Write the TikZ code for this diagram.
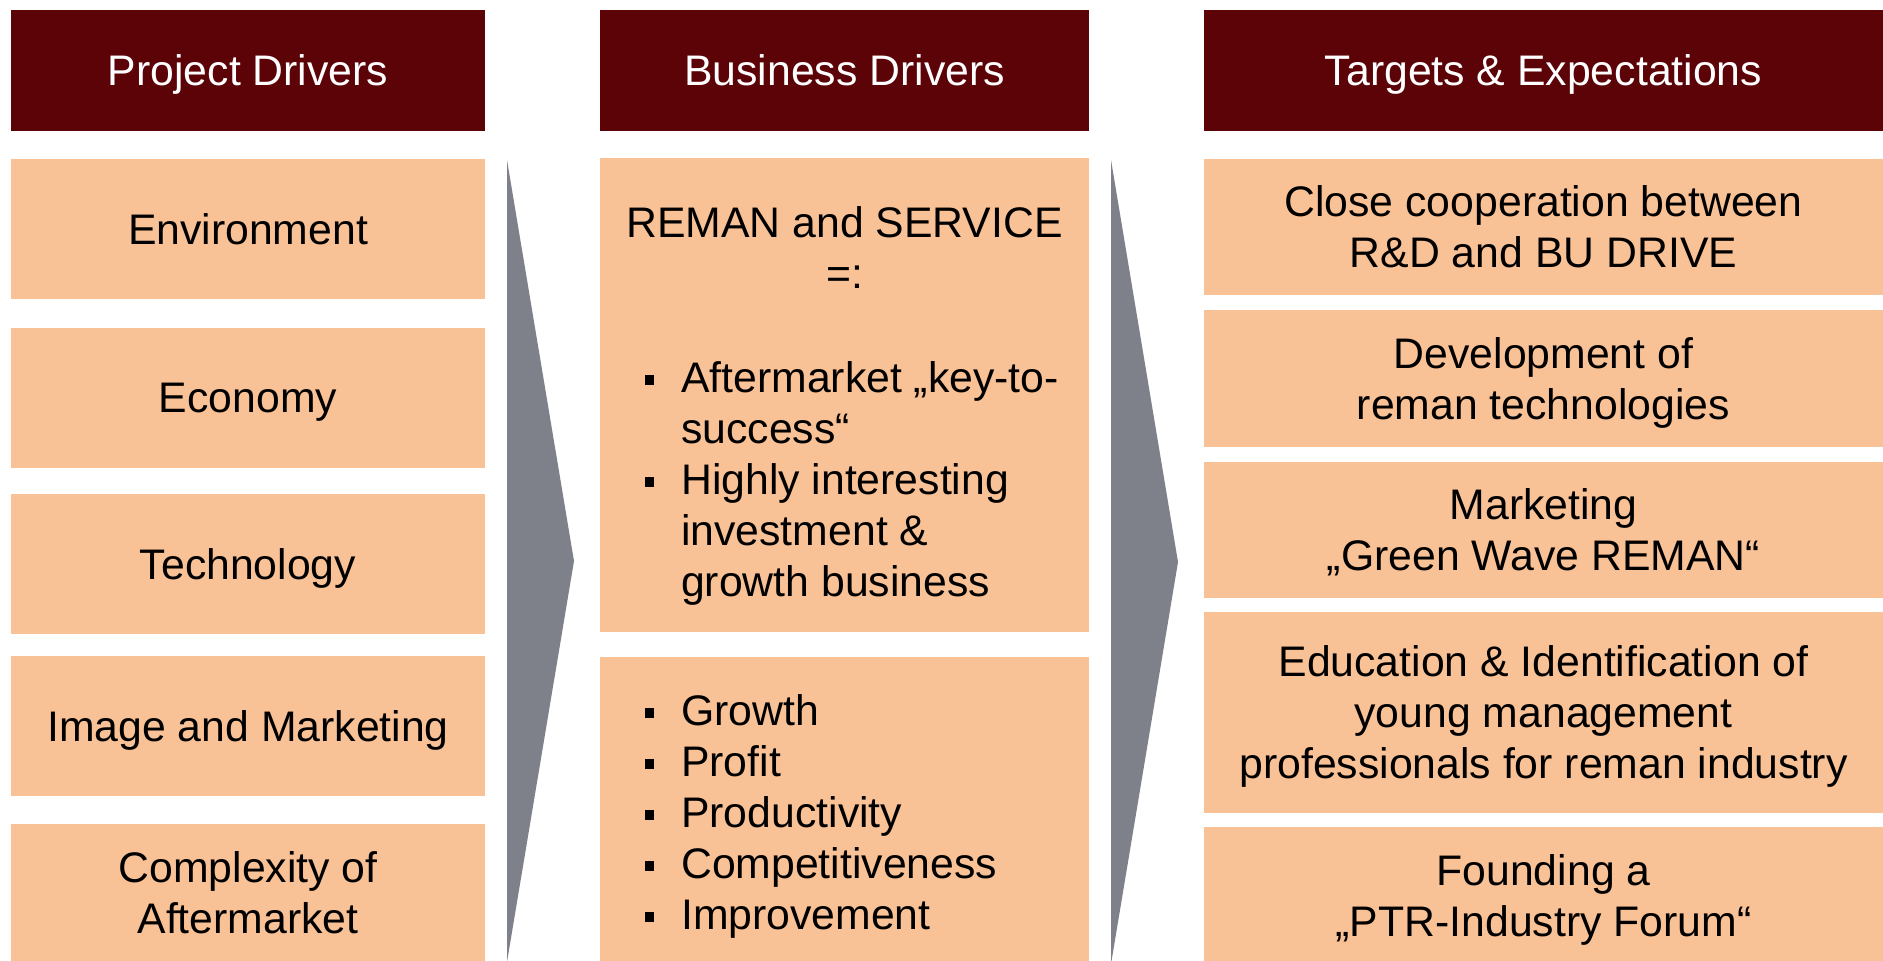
\documentclass[tikz,border=0pt]{standalone}
\usepackage{fontspec}
\setmainfont{Liberation Sans}
\definecolor{hdr}{HTML}{5C0308}
\definecolor{peach}{HTML}{F9C196}
\definecolor{chev}{HTML}{7E8189}
\newcommand{\bulsq}{\rule[7pt]{9pt}{10pt}}
\tikzset{
  txt/.style={font=\fontsize{42.75}{51}\selectfont},
  hbox/.style={txt, fill=hdr, text=white, inner sep=0pt, align=center, text depth=0pt},
  pbox/.style={txt, fill=peach, text=black, inner sep=0pt, align=center, text depth=0pt},
  blist/.style={txt, inner sep=0pt, anchor=base west},
  chevron/.style={fill=chev}
}
\begin{document}
\begin{tikzpicture}[x=1pt,y=-1pt]
\useasboundingbox (0,0) rectangle (1883,961);
% headers
\node[hbox, minimum width=474, minimum height=121] (h1) at (248,70) {Project Drivers};
\node[hbox, minimum width=489, minimum height=121] (h2) at (844.5,70) {Business Drivers};
\node[hbox, minimum width=679, minimum height=121] (h3) at (1543.5,70) {Targets \& Expectations};
% left column
\node[pbox, minimum width=474, minimum height=140.5] (l1) at (248,228.75) {Environment};
\node[pbox, minimum width=474, minimum height=140] (l2) at (248,398) {Economy};
\node[pbox, minimum width=474, minimum height=140] (l3) at (248,564) {Technology};
\node[pbox, minimum width=474, minimum height=140] (l4) at (248,726) {Image and Marketing};
\node[pbox, minimum width=474, minimum height=137] (l5) at (248,892.5) {Complexity of\\Aftermarket};
% chevrons
\fill[chevron] (507,160) -- (574,561) -- (507,962) -- cycle;
\fill[chevron] (1111,160) -- (1178,562) -- (1111,964) -- cycle;
% middle column
\node[pbox, minimum width=489, minimum height=473.5] (m1) at (844.5,395) {};
\node[pbox, minimum width=489, minimum height=304] (m2) at (844.5,809) {};
\node[txt, align=center, inner sep=0pt] (m1t) at (844.5,248) {REMAN and SERVICE\\=:};
\node[blist] (m1l) at (645,392) {\begin{tabular}[t]{@{}l@{\hspace{27pt}}l@{}}
\bulsq & Aftermarket „key-to-\\
 & success“\\
\bulsq & Highly interesting\\
 & investment \&\\
 & growth business
\end{tabular}};
\node[blist] (m2l) at (645,725) {\begin{tabular}[t]{@{}l@{\hspace{27pt}}l@{}}
\bulsq & Growth\\
\bulsq & Profit\\
\bulsq & Productivity\\
\bulsq & Competitiveness\\
\bulsq & Improvement
\end{tabular}};
% right column
\node[pbox, minimum width=679, minimum height=136.5] (r1) at (1543.5,226.75) {Close cooperation between\\R\&D and BU DRIVE};
\node[pbox, minimum width=679, minimum height=137] (r2) at (1543.5,378.5) {Development of\\reman technologies};
\node[pbox, minimum width=679, minimum height=136] (r3) at (1543.5,530) {Marketing\\„Green Wave REMAN“};
\node[pbox, minimum width=679, minimum height=201] (r4) at (1543.5,712.5) {Education \& Identification of\\young management\\professionals for reman industry};
\node[pbox, minimum width=679, minimum height=138] (r5) at (1543.5,896) {Founding a\\„PTR-Industry Forum“};
\end{tikzpicture}
\end{document}
